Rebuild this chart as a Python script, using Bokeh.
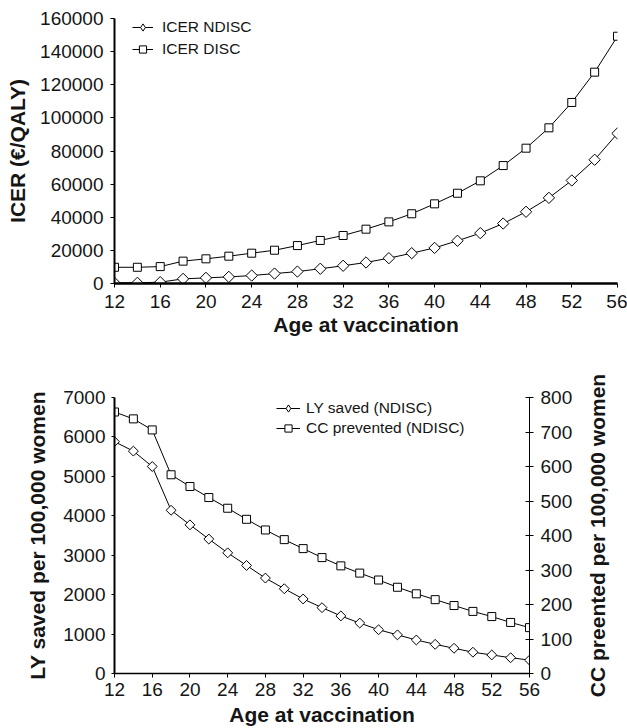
import math
from bokeh.plotting import figure
from bokeh.layouts import row
from bokeh.models import (Range1d, LinearAxis, FixedTicker, NumeralTickFormatter,
                          Legend, LegendItem)
from bokeh.embed import file_html
from bokeh.resources import INLINE

ages = [12, 14, 16, 18, 20, 22, 24, 26, 28, 30, 32, 34, 36, 38, 40, 42, 44, 46, 48, 50, 52, 54, 56]
icer_ndisc = [400, 400, 800, 2800, 3400, 4000, 4800, 6000, 7200, 8900, 10700, 12700, 15300,
              18300, 21500, 25800, 30400, 36200, 43300, 51700, 62200, 74700, 90600]
icer_disc = [9800, 9800, 10200, 13500, 14900, 16500, 18300, 20100, 22900, 26000, 29000, 32800,
             37200, 42100, 48100, 54500, 62000, 71200, 81700, 94000, 109300, 127600, 149300]
ly_saved = [5880, 5640, 5250, 4140, 3770, 3410, 3060, 2740, 2420, 2150, 1890, 1670, 1460,
            1280, 1110, 980, 850, 740, 640, 540, 470, 400, 340]
cc_prevented = [758, 738, 706, 576, 542, 510, 479, 447, 416, 388, 362, 336, 312, 291, 271,
                250, 231, 214, 197, 180, 165, 148, 133]

x_ticks = [12, 16, 20, 24, 28, 32, 36, 40, 44, 48, 52, 56]
icer_ticks = [0, 20000, 40000, 60000, 80000, 100000, 120000, 140000, 160000]
ly_ticks = [0, 1000, 2000, 3000, 4000, 5000, 6000, 7000]
cc_ticks = [0, 100, 200, 300, 400, 500, 600, 700, 800]

FONT = "Liberation Sans"
TXT = "#151515"


def style_axis(ax, line_w, tick_out, tick_in, standoff, title_standoff):
    ax.axis_line_width = line_w
    ax.axis_line_color = "black"
    ax.major_tick_out = tick_out
    ax.major_tick_in = tick_in
    ax.major_tick_line_color = "black"
    ax.minor_tick_line_color = None
    ax.major_label_text_font = FONT
    ax.major_label_text_font_size = "19px"
    ax.major_label_text_color = TXT
    ax.major_label_standoff = standoff
    ax.axis_label_text_font = FONT
    ax.axis_label_text_font_size = "21px"
    ax.axis_label_text_font_style = "bold"
    ax.axis_label_text_color = TXT
    ax.axis_label_standoff = title_standoff


def legend_for(p, labels, kinds, **kw):
    # legend-only glyphs: one point placed far outside the visible ranges
    items = []
    for lab, (kind, size) in zip(labels, kinds):
        ln = p.line([-1000, -999], [-1e9, -1e9], line_color="black", line_width=1)
        mk = p.scatter([-1000], [-1e9], marker=kind, size=size, fill_color="white",
                       line_color="black", line_width=1)
        items.append(LegendItem(label=lab, renderers=[ln, mk]))
    leg = Legend(items=items, padding=0, margin=0,
                 border_line_color=None, background_fill_alpha=0,
                 label_text_font=FONT, label_text_font_size="15.5px",
                 label_text_color=TXT, **kw)
    p.add_layout(leg)


# ---------------- top chart ----------------
p1 = figure(width=627, height=345, output_backend="svg", toolbar_location=None,
            x_range=Range1d(12, 56), y_range=Range1d(0, 160000),
            min_border_left=114, min_border_right=10, min_border_top=18, min_border_bottom=62)
p1.outline_line_color = None
p1.xgrid.visible = False
p1.ygrid.visible = False
p1.xaxis.ticker = FixedTicker(ticks=x_ticks)
p1.yaxis.ticker = FixedTicker(ticks=icer_ticks)
p1.yaxis.formatter = NumeralTickFormatter(format="0")
p1.xaxis.axis_label = "Age at vaccination"
p1.yaxis.axis_label = "ICER (€/QALY)"
style_axis(p1.xaxis[0], 2.5, 4, 0, 7, 2)
style_axis(p1.yaxis[0], 2, 4, 0, 7, 8)

p1.line(ages, icer_ndisc, line_color="black", line_width=1)
p1.scatter(ages, icer_ndisc, marker="square", angle=math.pi / 4, size=8,
           fill_color="white", line_color="black", line_width=1)
p1.line(ages, icer_disc, line_color="black", line_width=1)
p1.scatter(ages, icer_disc, marker="square", size=8,
           fill_color="white", line_color="black", line_width=1)

legend_for(p1, ["ICER NDISC", "ICER DISC"], [("diamond", 12), ("square", 8)],
           location=(18, 225), glyph_width=21, glyph_height=18, label_height=18,
           label_standoff=9, spacing=4)

# ---------------- bottom chart ----------------
p2 = figure(width=580, height=383, output_backend="svg", toolbar_location=None,
            x_range=Range1d(12, 56), y_range=Range1d(0, 7000),
            min_border_left=114, min_border_right=51, min_border_top=52, min_border_bottom=55)
p2.outline_line_color = None
p2.xgrid.visible = False
p2.ygrid.visible = False
p2.extra_y_ranges = {"cc": Range1d(0, 800)}
p2.xaxis.ticker = FixedTicker(ticks=x_ticks)
p2.yaxis.ticker = FixedTicker(ticks=ly_ticks)
p2.xaxis.axis_label = "Age at vaccination"
p2.yaxis.axis_label = "LY saved per 100,000 women"
style_axis(p2.xaxis[0], 1.5, 4, 0, 5, 4)
style_axis(p2.yaxis[0], 2, 3, 0, 6, 11)

ax_r = LinearAxis(y_range_name="cc", ticker=FixedTicker(ticks=cc_ticks))
style_axis(ax_r, 1, 4, 4, 7, 0)
p2.add_layout(ax_r, "right")

p2.line(ages, ly_saved, line_color="black", line_width=1)
p2.scatter(ages, ly_saved, marker="square", angle=math.pi / 4, size=7,
           fill_color="white", line_color="black", line_width=1)
p2.line(ages, cc_prevented, line_color="black", line_width=1, y_range_name="cc")
p2.scatter(ages, cc_prevented, marker="square", size=8, y_range_name="cc",
           fill_color="white", line_color="black", line_width=1)

legend_for(p2, ["LY saved (NDISC)", "CC prevented (NDISC)"], [("diamond", 11), ("square", 8)],
           location=(162, 236), glyph_width=24, glyph_height=18, label_height=18,
           label_standoff=6, spacing=2)

# narrow companion panel carrying the right-hand axis title (reads bottom-to-top)
p3 = figure(width=47, height=383, output_backend="svg", toolbar_location=None,
            x_range=Range1d(0, 1), y_range=Range1d(0, 800),
            min_border_left=34, min_border_right=0, min_border_top=52, min_border_bottom=55)
p3.outline_line_color = None
p3.xgrid.visible = False
p3.ygrid.visible = False
p3.xaxis.visible = False
p3.yaxis.ticker = FixedTicker(ticks=[])
p3.yaxis.axis_label = "CC preented per 100,000 women"
style_axis(p3.yaxis[0], 0, 0, 0, 0, 6)
p3.yaxis.axis_line_color = None
p3.yaxis.major_tick_line_color = None

open("out.html", "w").write(file_html([p1, row(p2, p3, spacing=0)], INLINE))
